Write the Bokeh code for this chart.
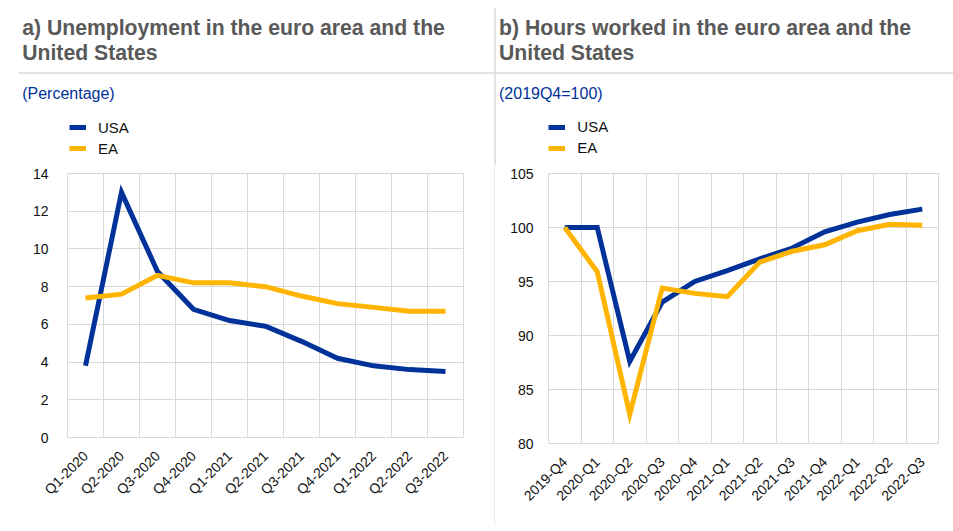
import math
from bokeh.plotting import figure
from bokeh.layouts import row, column
from bokeh.models import Range1d, FixedTicker, Label, Arrow, Legend, LegendItem
from bokeh.embed import file_html
from bokeh.resources import INLINE

# ---------------- data ----------------
quarters_a = ["Q1-2020", "Q2-2020", "Q3-2020", "Q4-2020", "Q1-2021", "Q2-2021",
              "Q3-2021", "Q4-2021", "Q1-2022", "Q2-2022", "Q3-2022"]
usa_unemp = [3.8, 13.0, 8.8, 6.8, 6.2, 5.9, 5.1, 4.2, 3.8, 3.6, 3.5]
ea_unemp = [7.4, 7.6, 8.6, 8.2, 8.2, 8.0, 7.5, 7.1, 6.9, 6.7, 6.7]
ticks_a = [0, 2, 4, 6, 8, 10, 12, 14]

quarters_b = ["2019-Q4", "2020-Q1", "2020-Q2", "2020-Q3", "2020-Q4", "2021-Q1",
              "2021-Q2", "2021-Q3", "2021-Q4", "2022-Q1", "2022-Q2", "2022-Q3"]
usa_hours = [100.0, 100.0, 87.6, 93.1, 95.0, 96.0, 97.1, 98.1, 99.6, 100.5, 101.2, 101.7]
ea_hours = [100.0, 95.9, 82.7, 94.4, 93.9, 93.6, 96.8, 97.8, 98.4, 99.7, 100.3, 100.2]
ticks_b = [80, 85, 90, 95, 100, 105]

series_names = ["USA", "EA"]
titles_a = ["a) Unemployment in the euro area and the", "United States", "(Percentage)"]
titles_b = ["b) Hours worked in the euro area and the", "United States", "(2019Q4=100)"]

BLUE = "#003299"
YELLOW = "#FFB400"
GRID = "#D9D9D9"
TITLE_C = "#595959"
FONT = "Liberation Sans"

PAGE_W = 953
HEADER_H = 165
CHART_H = 531 - HEADER_H
SPLIT_X = 494
NAN = float("nan")

# ---------------- header (titles, units, legends, separators) ----------------
hdr = figure(width=PAGE_W, height=HEADER_H, output_backend="svg", toolbar_location=None,
             x_range=Range1d(0, PAGE_W), y_range=Range1d(HEADER_H, 0),
             min_border=0, title=None)
hdr.axis.visible = False
hdr.grid.visible = False
hdr.outline_line_color = None
hdr.background_fill_color = "white"
hdr.border_fill_color = "white"

for tx, titles in ((21.7, titles_a), (498.5, titles_b)):
    hdr.add_layout(Label(x=tx, y=27.4, text=titles[0], text_font=FONT, text_font_size="21.2px",
                         text_font_style="bold", text_color=TITLE_C, text_baseline="middle"))
    hdr.add_layout(Label(x=tx, y=52.4, text=titles[1], text_font=FONT, text_font_size="21.2px",
                         text_font_style="bold", text_color=TITLE_C, text_baseline="middle"))
    hdr.add_layout(Label(x=tx, y=93.4, text=titles[2], text_font=FONT, text_font_size="16px",
                         text_color=BLUE, text_baseline="middle"))

hdr.add_layout(Arrow(end=None, x_start=18, y_start=72.5, x_end=PAGE_W, y_end=72.5,
                     line_color=GRID, line_width=1.5))
hdr.add_layout(Arrow(end=None, x_start=SPLIT_X + 0.5, y_start=7, x_end=SPLIT_X + 0.5,
                     y_end=HEADER_H, line_color=GRID, line_width=1.5))

# legend swatches (same style as the chart lines); location = bottom-left corner
for lx, ly in ((69, HEADER_H - 158.8), (548.3, HEADER_H - 158.2)):
    k_usa = hdr.line([NAN], [NAN], line_color=BLUE, line_width=5)
    k_ea = hdr.line([NAN], [NAN], line_color=YELLOW, line_width=5)
    hdr.add_layout(Legend(items=[LegendItem(label=series_names[0], renderers=[k_usa]),
                                 LegendItem(label=series_names[1], renderers=[k_ea])],
                          location=(lx, ly),
                          glyph_width=17, glyph_height=6, label_height=21, spacing=0,
                          padding=0, margin=0, label_standoff=12,
                          label_text_font=FONT, label_text_font_size="15px",
                          label_text_color="#111111",
                          background_fill_alpha=0, border_line_color=None))


# ---------------- charts ----------------
def make_chart(cats, usa, ea, yticks, width, fl, fw, ft, fh, y_standoff):
    n = len(cats)
    p = figure(width=width, height=CHART_H, output_backend="svg", toolbar_location=None,
               x_range=Range1d(0, n), y_range=Range1d(yticks[0], yticks[-1]),
               min_border_left=fl, min_border_top=ft,
               min_border_right=width - fl - fw, min_border_bottom=CHART_H - ft - fh,
               title=None)
    p.background_fill_color = "white"
    p.border_fill_color = "white"
    p.outline_line_color = GRID
    p.outline_line_width = 1

    xs = [i + 0.5 for i in range(n)]
    p.line(xs, usa, line_color=BLUE, line_width=5, line_join="miter")
    p.line(xs, ea, line_color=YELLOW, line_width=5, line_join="miter")

    p.xaxis.ticker = FixedTicker(ticks=xs)
    p.xaxis.major_label_overrides = {x: c for x, c in zip(xs, cats)}
    p.xaxis.major_label_orientation = math.pi / 4
    p.xgrid.ticker = FixedTicker(ticks=list(range(n + 1)))
    p.yaxis.ticker = FixedTicker(ticks=yticks)
    for ax in (p.xaxis, p.yaxis):
        ax.axis_line_color = None
        ax.major_tick_line_color = None
        ax.minor_tick_line_color = None
        ax.major_tick_in = 0
        ax.major_tick_out = 0
        ax.major_label_text_font = FONT
        ax.major_label_text_font_size = "14px"
        ax.major_label_text_color = "#111111"
    p.xaxis.major_label_standoff = 16
    p.yaxis.major_label_standoff = y_standoff
    p.grid.grid_line_color = GRID
    p.grid.grid_line_width = 1
    return p


pa = make_chart(quarters_a, usa_unemp, ea_unemp, ticks_a,
                width=SPLIT_X, fl=67, fw=396, ft=8, fh=264, y_standoff=19)
pb = make_chart(quarters_b, usa_hours, ea_hours, ticks_b,
                width=PAGE_W - SPLIT_X - 1, fl=53, fw=390, ft=8, fh=270, y_standoff=15)

# vertical divider between the two panels
div = figure(width=1, height=CHART_H, output_backend="svg", toolbar_location=None,
             min_border=0, min_border_bottom=6, title=None)
div.axis.visible = False
div.grid.visible = False
div.outline_line_color = None
div.background_fill_color = GRID
div.border_fill_color = "white"

layout = column(hdr, row(column(pa), column(div), column(pb), spacing=0), spacing=0)
open("out.html", "w").write(file_html(layout, INLINE))
